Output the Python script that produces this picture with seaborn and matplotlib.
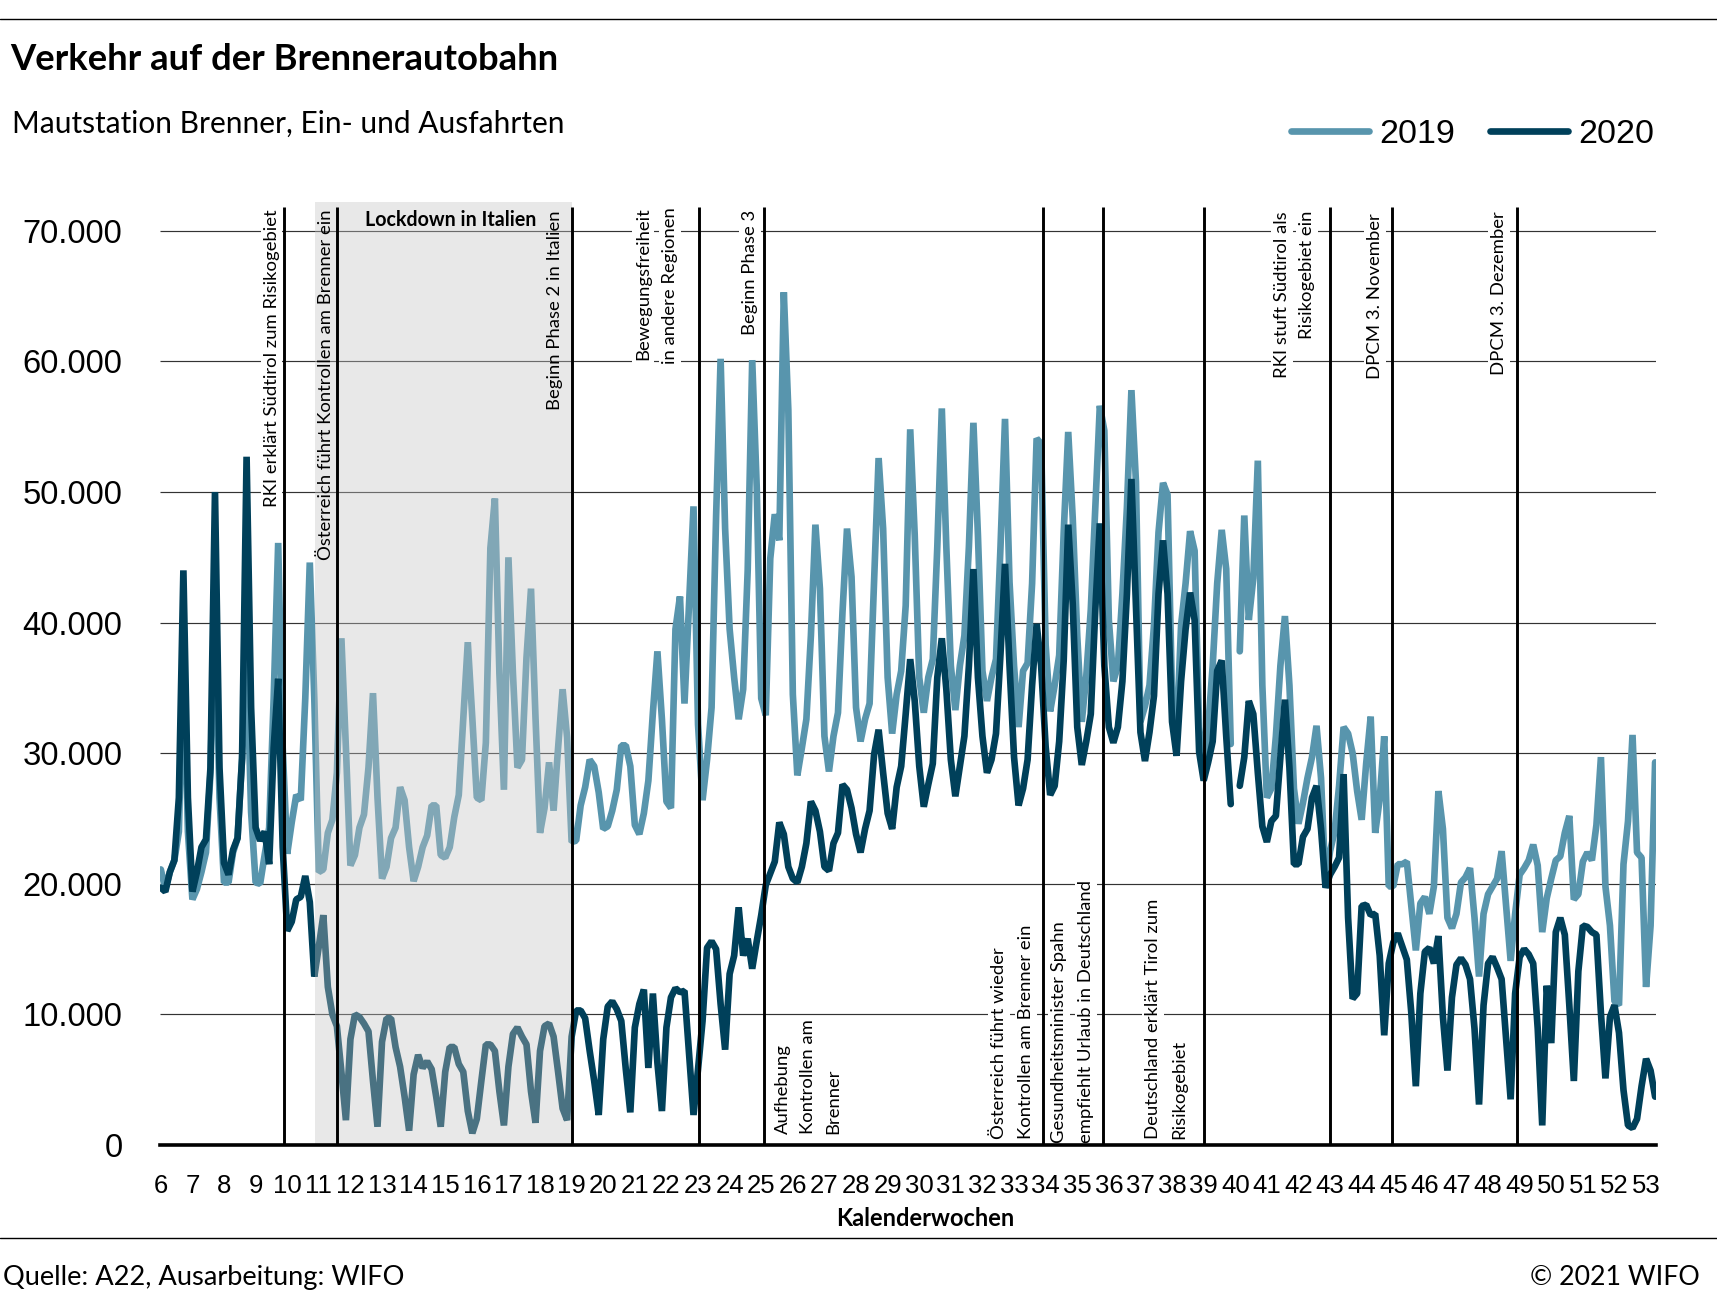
import numpy as np
import pandas as pd
import matplotlib
matplotlib.use("Agg")
import matplotlib.pyplot as plt
import seaborn as sns

nan = float("nan")

weeks = list(range(6, 54))
y_ticks = [0, 10000, 20000, 30000, 40000, 50000, 60000, 70000]
y_labels = ["0", "10.000", "20.000", "30.000", "40.000", "50.000", "60.000", "70.000"]

# daily traffic, thousands of vehicles
traffic_2019 = [
    21.1,19.6,20.9,21.8,24,38,24,18.8,19.6,20.9,
    22.4,28.5,42,26.6,20.1,20.1,22.4,23.5,29.6,38,
    25.5,20.1,20,22.2,24.3,34.2,46.1,30.4,22.3,24.7,
    26.8,26.4,34.2,44.6,34.2,20.9,21.1,23.9,24.9,28.5,
    38.8,30.4,21.4,22.2,24.3,25.3,28.9,34.6,26.6,20.4,
    21.3,23.5,24.3,27.4,26.4,22.8,20.2,21.3,22.8,23.7,
    26,26,22.2,22,22.8,25.1,26.8,32.7,38.5,32.7,
    26.6,26.4,30.8,45.7,49.5,36.1,27.2,45,36.1,28.9,
    29.5,37.3,42.6,32.7,23.9,25.8,29.3,25.6,30.4,34.9,
    31.2,23.2,23.3,26,27.4,29.5,29,27,24.2,24.4,
    25.6,27.2,30.6,30.6,29,24.5,23.8,25.4,27.9,33.1,
    37.8,32.6,26.3,25.8,39.5,42,33.8,41.3,48.9,32.2,
    26.4,29.5,33.5,48.1,60.2,47.2,39.5,35.8,32.6,34.9,
    44,60.1,50.4,34.2,32.9,44.9,48.3,46.3,65.3,56.3,
    34.5,28.3,30.4,32.6,39,47.5,42.6,31.3,28.6,31.3,
    33.1,40.8,47.2,43.5,33.5,30.9,32.6,33.8,43.1,52.6,
    47.2,35.8,31.5,34.5,36.3,41.3,54.8,46.7,35.8,33.1,
    35.8,37.2,45.8,56.4,45.8,36.7,33.3,36.7,39,45.8,
    55.3,46.7,36.3,34,35.8,37.2,45.8,55.6,43.1,36.7,
    32,36.3,36.9,43,54.1,53.7,38.3,33.2,35.2,37.5,
    46.9,54.6,48,39,32.4,35.9,41,48.8,56.6,54.7,
    40.2,35.5,36.7,42.2,48.8,57.8,50.8,32.4,33.6,35.2,
    39.8,46.9,50.7,49.8,34.4,31.2,39.8,43,47,45.5,
    32,28.5,32,36.7,43,47.1,44.1,30.7,nan,37.8,
    48.2,40.2,43.4,52.4,35.2,26.6,27.3,31.3,36.7,40.5,
    35.2,27.3,24.6,26.2,28.1,29.7,32.1,28.1,19.9,22.5,
    24,27.5,32,31.5,30,27.1,24.9,29.2,32.8,23.9,
    26.5,31.3,19.8,19.8,21.5,21.5,21.7,18.3,14.9,18.5,
    19,17.7,19.8,27.1,24.2,17.4,16.6,17.7,20.1,20.5,
    21.2,17.4,12.9,17.7,19.2,19.8,20.4,22.5,18.3,14.1,
    17.7,20.7,21.2,21.8,23,21.4,16.3,18.9,20.4,21.8,
    22.1,23.9,25.2,18.8,19.2,21.7,22.4,21.8,24.5,29.7,
    19.8,16.8,11,10.7,21.5,24.8,31.4,22.4,22,12.1,
    16.8,29.3,
]
traffic_2020 = [
    19.7,19.4,20.9,21.8,26.6,44.0,26.6,19.4,20.9,22.8,
    23.4,28.9,50.0,28.9,21.6,20.7,22.6,23.5,29.6,52.7,
    33.5,24.3,23.3,24.0,21.5,30.4,35.7,22.8,16.4,17.1,
    18.8,19.0,20.6,18.6,12.9,15.2,17.6,12.1,10.0,9.1,
    5.6,1.9,8.1,10.0,9.8,9.3,8.7,4.9,1.4,7.9,
    9.7,9.7,7.5,6.0,3.7,1.1,5.4,6.9,5.9,6.4,
    5.8,3.7,1.4,5.6,7.5,7.5,6.2,5.6,2.6,0.9,
    2.0,4.9,7.7,7.7,7.2,4.1,1.5,6.0,8.5,9.0,
    8.3,7.7,4.1,1.7,7.2,9.1,9.3,8.3,5.6,2.8,
    1.9,8.3,10.3,10.3,9.7,7.2,4.9,2.3,8.1,10.6,
    11,10.4,9.5,5.8,2.5,9,10.8,11.9,5.9,11.6,
    6.3,2.6,9,11.3,12,11.7,11.8,7,2.3,5.8,
    9.5,15.1,15.6,15,10.8,7.3,13.1,14.5,18.2,14.5,
    15.8,13.5,15.6,17.6,19.9,20.8,21.7,24.7,23.8,21.3,
    20.4,20.1,21.3,23.1,26.3,25.6,24,21.3,21,23.1,
    23.9,27.6,27.2,25.8,23.8,22.4,24.2,25.6,29.9,31.8,
    28.5,25.4,24.2,27.4,29,33,37.2,34,29,25.9,
    27.6,29.2,35.8,38.8,34.9,29.5,26.7,29,31.3,36.7,
    44.1,35.8,31.3,28.5,29.5,31.5,37.6,44.5,36.7,29.7,
    26,27.3,29.5,35.2,39.9,36.7,30.5,26.8,27.5,30.9,
    37.1,47.5,41.4,32,29.1,30.9,33,41,47.6,36.7,
    32,30.8,32,35.5,42.2,51,41.4,31.6,29.4,31.6,
    34.4,42.2,46.3,42.2,32.4,29.8,35.5,39.5,42.3,40.2,
    30.1,27.9,29.3,30.9,36.3,37.1,31.3,26.1,nan,27.5,
    29.7,34,33,28.5,24.4,23.2,24.8,25.2,29.7,34.1,
    28.9,21.5,21.5,23.6,24.2,26.6,27.5,24.2,19.7,20.7,
    21.3,22,28.4,17.4,11.2,11.6,18.3,18.4,17.6,17.7,
    14.5,8.4,13.9,15.5,16.2,15.2,14.2,10.1,4.5,11.6,
    14.8,15.1,13.9,16,9.8,5.7,11.3,13.8,14.3,13.8,
    12.7,8.9,3.1,10.7,13.9,14.4,13.6,12.7,8.1,3.5,
    11.6,14.4,15,14.6,13.9,8.9,1.5,12.2,7.8,16.3,
    17.4,16.1,10.7,4.9,13.3,16.8,16.7,16.3,16.1,10.1,
    5.1,9.8,10.7,8.6,4.2,1.5,1.3,2,4.5,6.6,
    5.7,3.7,
]

# event marker positions in days since start of week 6
event_days = [27.3, 39, 91, 119.3, 133.6, 195.4, 208.6, 231, 259, 272.7, 300.5]
lockdown_days = (34.2, 91)

W, H = 1717, 1315
NARROW = ["Lato", "Liberation Sans"]
SANS = ["Liberation Sans", "DejaVu Sans"]
COL_19, COL_20 = "#5895ad", "#00405a"

sns.set_theme(style="white")
plt.rcParams["font.family"] = SANS
plt.rcParams["text.color"] = "black"

n = len(traffic_2019)
days = np.arange(n)
seg = np.cumsum(np.isnan(traffic_2020))
df = pd.concat([
    pd.DataFrame({"day": days, "count": np.array(traffic_2019) * 1000, "year": "2019", "seg": seg}),
    pd.DataFrame({"day": days, "count": np.array(traffic_2020) * 1000, "year": "2020", "seg": seg}),
], ignore_index=True)

fig = plt.figure(figsize=(W / 100, H / 100), dpi=100, facecolor="white")
ax = fig.add_axes([160 / W, 1 - 1145 / H, (1656 - 160) / W, (1145 - 202) / H])

sns.lineplot(data=df, x="day", y="count", hue="year", units="seg", estimator=None,
             palette={"2019": COL_19, "2020": COL_20}, hue_order=["2019", "2020"],
             lw=4.8, ax=ax, zorder=2, solid_joinstyle="bevel", solid_capstyle="round")

ax.set_xlim(-0.18, 331.2)
ax.set_ylim(0, 72205)
ax.set_xticks([(w - 6) * 7 for w in weeks])
ax.set_xticklabels([str(w) for w in weeks], fontsize=18.5)
ax.set_yticks(y_ticks)
ax.set_yticklabels(y_labels, fontsize=23.6)
ax.tick_params(axis="x", length=0, pad=21, colors="black")
ax.tick_params(axis="y", length=0, pad=27, colors="black")
ax.set_xlabel("")
ax.set_ylabel("")
for s in ["top", "right", "left"]:
    ax.spines[s].set_visible(False)
ax.spines["bottom"].set_linewidth(2.6)
ax.spines["bottom"].set_color("black")
ax.spines["bottom"].set_zorder(7)

ax.hlines(y_ticks[1:], -0.18, 331.2, color="#333333", lw=0.85, zorder=1)
ax.axvspan(*lockdown_days, facecolor="#c5c5c5", edgecolor="none", alpha=0.38, zorder=3)
ax.vlines(event_days, 0, 71800, color="black", lw=2.1, zorder=6)

handles, labels = ax.get_legend_handles_labels()
leg = ax.legend(handles, labels, loc="upper right", bbox_to_anchor=(1654 / W, 1 - 119 / H),
                bbox_transform=fig.transFigure, ncol=2, frameon=False, fontsize=24.5,
                handlelength=2.3, handletextpad=0.3, columnspacing=1.0, borderpad=0, borderaxespad=0)
for h in leg.get_lines():
    h.set_solid_capstyle("round")

def label(x, y, text, va, white=True, size=13.3):
    kw = dict(facecolor="white", edgecolor="none", pad=2) if white else None
    ax.text(x / W, 1 - y / H, text, transform=fig.transFigure, rotation=90, ha="center", va=va,
            fontsize=size, family=NARROW, color="black", bbox=kw, zorder=5)

label(271.5, 209, "RKI erklärt Südtirol zum Risikogebiet", "top")
label(326, 209, "Österreich führt Kontrollen am Brenner ein", "top", white=False)
label(555, 211, "Beginn Phase 2 in Italien", "top", white=False)
label(643, 207, "Bewegungsfreiheit", "top")
label(670, 207, "in andere Regionen", "top")
label(750, 210, "Beginn Phase 3", "top")
label(1282, 211, "RKI stuft Südtirol als", "top")
label(1307, 211, "Risikogebiet ein", "top")
label(1375, 213, "DPCM 3. November", "top")
label(1499, 211, "DPCM 3. Dezember", "top")
label(783, 1134, "Aufhebung", "bottom")
label(808, 1134, "Kontrollen am", "bottom")
label(833, 1134, "Brenner", "bottom")
label(999, 1139, "Österreich führt wieder", "bottom")
label(1026, 1139, "Kontrollen am Brenner ein", "bottom")
label(1059, 1143, "Gesundheitsminister Spahn", "bottom")
label(1086, 1143, "empfiehlt Urlaub in Deutschland", "bottom")
label(1153, 1139, "Deutschland erklärt Tirol zum", "bottom")
label(1179, 1139, "Risikogebiet", "bottom")

ax.text(451 / W, 1 - 220 / H, "Lockdown in Italien", transform=fig.transFigure, ha="center", va="center",
        fontsize=14.1, family=NARROW, weight="bold", zorder=5)

fig.text(10 / W, 1 - 70 / H, "Verkehr auf der Brennerautobahn", fontsize=26.2, family=NARROW, weight="bold",
         ha="left", va="baseline")
fig.text(12 / W, 1 - 133 / H, "Mautstation Brenner, Ein- und Ausfahrten", fontsize=21.5, family=NARROW,
         ha="left", va="baseline")
fig.text(925 / W, 1 - 1218 / H, "Kalenderwochen", fontsize=17, family=NARROW, weight="bold",
         ha="center", va="center")
fig.text(3 / W, 1 - 1285 / H, "Quelle: A22, Ausarbeitung: WIFO", fontsize=19.6, family=NARROW,
         ha="left", va="baseline")
fig.text(1700 / W, 1 - 1285 / H, "© 2021 WIFO", fontsize=19.3, family=NARROW, ha="right", va="baseline")

for y in (19, 1238):
    fig.add_artist(plt.Line2D([0, 1], [1 - y / H, 1 - y / H], color="black", lw=1.0, transform=fig.transFigure))

fig.savefig("out.png", dpi=100, facecolor="white")
